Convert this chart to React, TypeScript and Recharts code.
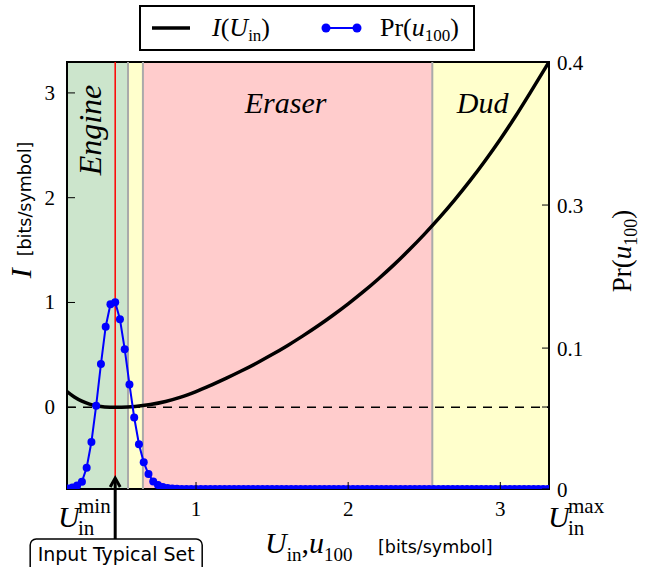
import React from 'react';
import { ComposedChart, Line, XAxis, YAxis, ReferenceArea, ReferenceLine, Legend } from 'recharts';

// axis ranges (bits/symbol)
const U_MIN = 0.152;
const U_MAX = 3.32;
const I_MIN = -0.78;
const I_MAX = 3.295;

const xTicks = [U_MIN, 1, 2, 3, U_MAX];
const topTicks = [1, 2, 3];
const leftTicks = [0, 1, 2, 3];
// right axis ticks are not evenly spaced in the original, positions read off the picture
const rightTicks = [0, 0.0768, 0.132, 0.266, 0.4];
const rightTickLabels = ['0', '', '0.1', '0.3', '0.4'];

// I(U_in) curve
const curveU = [0.152, 0.2, 0.25, 0.3, 0.35, 0.4, 0.47, 0.55, 0.6, 0.7, 0.8, 0.9, 1.0, 1.1, 1.2, 1.3, 1.4, 1.5, 1.6, 1.7, 1.8, 1.9, 2.0, 2.1, 2.2, 2.3, 2.4, 2.5, 2.6, 2.7, 2.8, 2.9, 3.0, 3.1, 3.2, 3.32];
const curveI = [0.15, 0.098, 0.058, 0.03, 0.012, 0.003, 0.0, 0.003, 0.008, 0.026, 0.055, 0.096, 0.15, 0.212, 0.278, 0.348, 0.423, 0.503, 0.588, 0.679, 0.775, 0.878, 0.987, 1.103, 1.227, 1.359, 1.5, 1.65, 1.809, 1.979, 2.16, 2.353, 2.558, 2.777, 3.01, 3.295];

// Pr(u_100), u_100 on a 1/32 grid starting at 5/32
const PR_START = 5 / 32;
const PR_STEP = 1 / 32;
const prValues = [
  0.0005, 0.0014, 0.0033, 0.0068, 0.02, 0.044, 0.078, 0.117, 0.152, 0.173,
  0.175, 0.159, 0.131, 0.098, 0.067, 0.042, 0.025, 0.014, 0.007, 0.0037,
  0.0019, 0.0009, 0.0004, 0.0002, 0, 0, 0, 0, 0, 0,
  0, 0, 0, 0, 0, 0, 0, 0, 0, 0,
  0, 0, 0, 0, 0, 0, 0, 0, 0, 0,
  0, 0, 0, 0, 0, 0, 0, 0, 0, 0,
  0, 0, 0, 0, 0, 0, 0, 0, 0, 0,
  0, 0, 0, 0, 0, 0, 0, 0, 0, 0,
  0, 0, 0, 0, 0, 0, 0, 0, 0, 0,
  0, 0, 0, 0, 0, 0, 0, 0, 0, 0,
  0, 0,
];

// regions
const engineEnd = 0.553;
const eraserStart = 0.651;
const eraserEnd = 2.553;
const typicalU = 15 / 32;

const curveData = curveU.map((u, i) => ({ u, I: curveI[i] }));
const prData = prValues.map((p, i) => ({ u: PR_START + i * PR_STEP, p }));

const serif = '"Liberation Serif", "DejaVu Serif", serif';
const sans = '"DejaVu Sans", sans-serif';

function XTick(props: any) {
  const { x, y, payload } = props;
  const v = payload.value;
  if (v === U_MIN || v === U_MAX) {
    const x0 = v === U_MIN ? x - 9 : x - 1;
    return (
      <g fontFamily={serif}>
        <text x={x0} y={y + 38} fontStyle="italic" fontSize={30}>U</text>
        <text x={x0 + 20} y={y + 24} fontSize={21}>{v === U_MIN ? 'min' : 'max'}</text>
        <text x={x0 + 20} y={y + 46} fontSize={21}>in</text>
      </g>
    );
  }
  return (
    <g>
      <line x1={x} y1={y} x2={x} y2={y - 7} stroke="black" strokeWidth={1} />
      <text x={x} y={y + 27} textAnchor="middle" fontFamily={serif} fontSize={21}>{v}</text>
    </g>
  );
}

function TopTick(props: any) {
  const { x, y } = props;
  return <line x1={x} y1={y} x2={x} y2={y + 7} stroke="black" strokeWidth={1} />;
}

function LeftTick(props: any) {
  const { x, y, payload } = props;
  return (
    <g>
      <line x1={x} y1={y} x2={x + 8} y2={y} stroke="black" strokeWidth={1} />
      <text x={x - 12} y={y + 7} textAnchor="end" fontFamily={serif} fontSize={21}>{payload.value}</text>
    </g>
  );
}

function RightTick(props: any) {
  const { x, y, index } = props;
  return (
    <g>
      <line x1={x} y1={y} x2={x - 7} y2={y} stroke="black" strokeWidth={1} />
      <text x={x + 8} y={y + 8} fontFamily={serif} fontSize={21}>{rightTickLabels[index]}</text>
    </g>
  );
}

function XTitle(props: any) {
  const { x, y } = props.viewBox;
  return (
    <g>
      <text x={x + 198} y={y + 64} fontFamily={serif} fontSize={30}>
        <tspan fontStyle="italic">U</tspan>
        <tspan fontSize={19} dy={8}>in</tspan>
        <tspan dy={-8}>,</tspan>
        <tspan fontStyle="italic">u</tspan>
        <tspan fontSize={19} dy={8}>100</tspan>
      </text>
      <text x={x + 311} y={y + 64} fontFamily={sans} fontSize={17.5}>[bits/symbol]</text>
    </g>
  );
}

function LeftTitle(props: any) {
  const { x } = props.viewBox;
  const cx = x + 31;
  const cy = 210;
  return (
    <text x={cx} y={cy} transform={`rotate(-90 ${cx} ${cy})`} textAnchor="middle" fontFamily={serif}>
      <tspan fontStyle="italic" fontSize={30}>I</tspan>
      <tspan fontFamily={sans} fontSize={17.5} dx={12}>[bits/symbol]</tspan>
    </text>
  );
}

function RightTitle(props: any) {
  const { x } = props.viewBox;
  const cx = x + 82;
  const cy = 251;
  return (
    <text x={cx} y={cy} transform={`rotate(-90 ${cx} ${cy})`} textAnchor="middle" fontFamily={serif} fontSize={27}>
      Pr(<tspan fontStyle="italic">u</tspan>
      <tspan fontSize={18} dy={6}>100</tspan>
      <tspan dy={-6}>)</tspan>
    </text>
  );
}

function RegionLabel(props: any) {
  const { viewBox, text, dx, rotate } = props;
  const { x, y, width } = viewBox;
  if (rotate) {
    const cx = x + 34;
    const cy = y + 68;
    return (
      <text x={cx} y={cy} transform={`rotate(-90 ${cx} ${cy})`} textAnchor="middle" fontFamily={serif} fontStyle="italic" fontSize={32}>{text}</text>
    );
  }
  return (
    <text x={x + width / 2 + dx} y={y + 51} textAnchor="middle" fontFamily={serif} fontStyle="italic" fontSize={30}>{text}</text>
  );
}

function TypicalSetNote(props: any) {
  const { x, y, height } = props.viewBox;
  const bottom = y + height;
  return (
    <g>
      <path d={`M${x} ${bottom - 10} L${x} ${bottom + 50}`} stroke="black" strokeWidth={3} fill="none" />
      <path d={`M${x - 5} ${bottom - 2} L${x} ${bottom - 11} L${x + 5} ${bottom - 2}`} stroke="black" strokeWidth={3} fill="none" />
      <rect x={x - 85} y={bottom + 50} width={172} height={40} rx={6} fill="white" stroke="black" strokeWidth={1.5} />
      <text x={x + 1} y={bottom + 72} textAnchor="middle" fontFamily={sans} fontSize={19}>Input Typical Set</text>
    </g>
  );
}

function LegendBox() {
  return (
    <svg width={336} height={46}>
      <rect x={1} y={1} width={334} height={44} fill="white" stroke="black" strokeWidth={2} />
      <line x1={13} y1={23} x2={51} y2={23} stroke="black" strokeWidth={3.5} />
      <text x={73} y={31} fontFamily={serif} fontSize={26}>
        <tspan fontStyle="italic">I</tspan>(<tspan fontStyle="italic">U</tspan>
        <tspan fontSize={17} dy={5}>in</tspan>
        <tspan dy={-5}>)</tspan>
      </text>
      <line x1={187} y1={23} x2={218} y2={23} stroke="#0000ff" strokeWidth={2} />
      <circle cx={187} cy={23} r={4.5} fill="#0000ff" />
      <circle cx={218} cy={23} r={4.5} fill="#0000ff" />
      <text x={241} y={31} fontFamily={serif} fontSize={26}>
        Pr(<tspan fontStyle="italic">u</tspan>
        <tspan fontSize={17} dy={5}>100</tspan>
        <tspan dy={-5}>)</tspan>
      </text>
    </svg>
  );
}

export default function App() {
  return (
    <div style={{ position: 'absolute', left: 0, top: 0 }}>
      <ComposedChart width={647} height={567} margin={{ top: 62, right: 0, bottom: 0, left: 0 }}>
        <XAxis
          dataKey="u"
          type="number"
          domain={[U_MIN, U_MAX]}
          allowDataOverflow
          ticks={xTicks}
          interval={0}
          height={78}
          tickSize={0}
          tickMargin={0}
          axisLine={false}
          tick={<XTick />}
          label={<XTitle />}
        />
        <XAxis
          xAxisId="top"
          orientation="top"
          type="number"
          domain={[U_MIN, U_MAX]}
          allowDataOverflow
          ticks={topTicks}
          interval={0}
          height={0}
          tickSize={0}
          tickMargin={0}
          axisLine={false}
          tick={<TopTick />}
        />
        <YAxis
          yAxisId="left"
          type="number"
          domain={[I_MIN, I_MAX]}
          allowDataOverflow
          ticks={leftTicks}
          interval={0}
          width={67}
          tickSize={0}
          tickMargin={0}
          axisLine={false}
          tick={<LeftTick />}
          label={<LeftTitle />}
        />
        <YAxis
          yAxisId="right"
          orientation="right"
          type="number"
          domain={[0, 0.4]}
          allowDataOverflow
          ticks={rightTicks}
          interval={0}
          width={98}
          tickSize={0}
          tickMargin={0}
          axisLine={false}
          tick={<RightTick />}
          label={<RightTitle />}
        />
        <Legend
          layout="horizontal"
          verticalAlign="middle"
          align="center"
          content={<LegendBox />}
          wrapperStyle={{ top: 5, left: 139, width: 336, height: 46 }}
        />

        <ReferenceArea yAxisId="left" x1={U_MIN} x2={engineEnd} fill="#cce5cc" fillOpacity={1} stroke="none"
          label={<RegionLabel text="Engine" rotate />} />
        <ReferenceArea yAxisId="left" x1={engineEnd} x2={eraserStart} fill="#ffffcc" fillOpacity={1} stroke="none" />
        <ReferenceArea yAxisId="left" x1={eraserStart} x2={eraserEnd} fill="#ffcccc" fillOpacity={1} stroke="none"
          label={<RegionLabel text="Eraser" dx={-2} />} />
        <ReferenceArea yAxisId="left" x1={eraserEnd} x2={U_MAX} fill="#ffffcc" fillOpacity={1} stroke="none"
          label={<RegionLabel text="Dud" dx={-8} />} />

        <ReferenceLine yAxisId="left" x={engineEnd} stroke="#aaaaaa" strokeWidth={2} />
        <ReferenceLine yAxisId="left" x={eraserStart} stroke="#aaaaaa" strokeWidth={2} />
        <ReferenceLine yAxisId="left" x={eraserEnd} stroke="#aaaaaa" strokeWidth={2} />
        <ReferenceLine yAxisId="left" y={0} stroke="black" strokeWidth={1.5} strokeDasharray="9 7" />
        <ReferenceLine yAxisId="left" x={typicalU} stroke="#ff0000" strokeWidth={1.5} label={<TypicalSetNote />} />

        <Line data={curveData} dataKey="I" yAxisId="left" type="monotone" stroke="black" strokeWidth={3.5}
          dot={false} isAnimationActive={false} legendType="line" />
        <Line data={prData} dataKey="p" yAxisId="right" type="linear" stroke="#0000ff" strokeWidth={2}
          dot={{ r: 4, fill: '#0000ff', stroke: '#0000ff', strokeWidth: 0 }} isAnimationActive={false} />

        <ReferenceArea yAxisId="left" x1={U_MIN} x2={U_MAX} y1={I_MIN} y2={I_MAX} fill="none" stroke="black"
          strokeWidth={2} ifOverflow="visible" />
      </ComposedChart>
    </div>
  );
}
